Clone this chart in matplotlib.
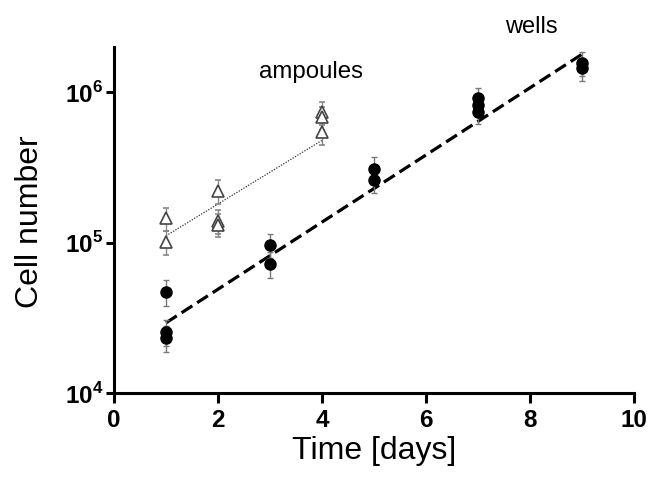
import matplotlib
matplotlib.use("Agg")
import matplotlib.pyplot as plt
import numpy as np

plt.rcParams['font.family'] = ['Liberation Sans', 'DejaVu Sans']
plt.rcParams['mathtext.fontset'] = 'custom'
plt.rcParams['mathtext.rm'] = 'Liberation Sans:bold'
plt.rcParams['mathtext.bf'] = 'Liberation Sans:bold'

# Data
wells_day = [1, 1, 1, 3, 3, 5, 5, 7, 7, 7, 9, 9]
wells_cells = [47000, 25500, 23300, 97000, 72000, 311000, 259000, 912000, 819000, 736000, 1560000, 1440000]
wells_err = [9000, 5000, 4500, 18000, 14000, 60000, 45000, 150000, 130000, 120000, 280000, 260000]

amp_day = [1, 1, 2, 2, 2, 4, 4, 4]
amp_cells = [145000, 101000, 222000, 140000, 132000, 736000, 681000, 541000]
amp_err = [25000, 18000, 40000, 25000, 23000, 130000, 120000, 95000]

wells_fit_day = [1, 9]
wells_fit_cells = [29300, 1790000]
amp_fit_day = [1, 4]
amp_fit_cells = [111000, 479000]

xticks = [0, 2, 4, 6, 8, 10]
yticks = [1e4, 1e5, 1e6]
ytick_labels = [r'$10^{4}$', r'$10^{5}$', r'$10^{6}$']

fig = plt.figure(figsize=(6.51, 4.79), dpi=100)
ax = fig.add_axes([114/651, 1-393/479, 520/651, 346/479])

ax.plot(wells_fit_day, wells_fit_cells, color='black', lw=2.3, ls=(0, (4, 1.8)), zorder=2)
ax.plot(amp_fit_day, amp_fit_cells, color='#333333', lw=0.9, ls=(0, (1, 1.2)), zorder=2)

ax.errorbar(wells_day, wells_cells, yerr=wells_err, fmt='o', color='black', ms=8,
            ecolor='#777777', elinewidth=1.0, capsize=2.5, capthick=1.0, zorder=3)
ax.errorbar(amp_day, amp_cells, yerr=amp_err, fmt='^', mfc='white', mec='#444444', mew=1.2,
            ms=8, ecolor='#888888', elinewidth=1.0, capsize=2.5, capthick=1.0, zorder=3)

ax.set_yscale('log')
ax.set_xlim(0, 10)
ax.set_ylim(1e4, 2e6)
ax.set_xticks(xticks)
ax.set_xticklabels([str(t) for t in xticks], fontsize=17.5, fontweight='bold')
ax.set_yticks(yticks)
ax.set_yticklabels(ytick_labels, fontsize=17.5)
ax.yaxis.set_minor_locator(matplotlib.ticker.NullLocator())
ax.tick_params(axis='x', which='major', direction='out', length=7, width=2.2, pad=4.5)
ax.tick_params(axis='y', which='major', direction='out', length=5.5, width=2.2, pad=2)

for s in ['top', 'right']:
    ax.spines[s].set_visible(False)
for s in ['left', 'bottom']:
    ax.spines[s].set_linewidth(2.2)

ax.set_xlabel('Time [days]', fontsize=23)
ax.xaxis.set_label_coords(0.5, -0.125)
ax.set_ylabel('Cell number', fontsize=23)
ax.yaxis.set_label_coords(-0.133, 0.494)

ax.text(3.79, 1.24e6, 'ampoules', fontsize=17.3, ha='center', va='baseline')
ax.text(8.02, 2.47e6, 'wells', fontsize=17, ha='center', va='baseline', clip_on=False)

fig.savefig('out.png', dpi=100)
